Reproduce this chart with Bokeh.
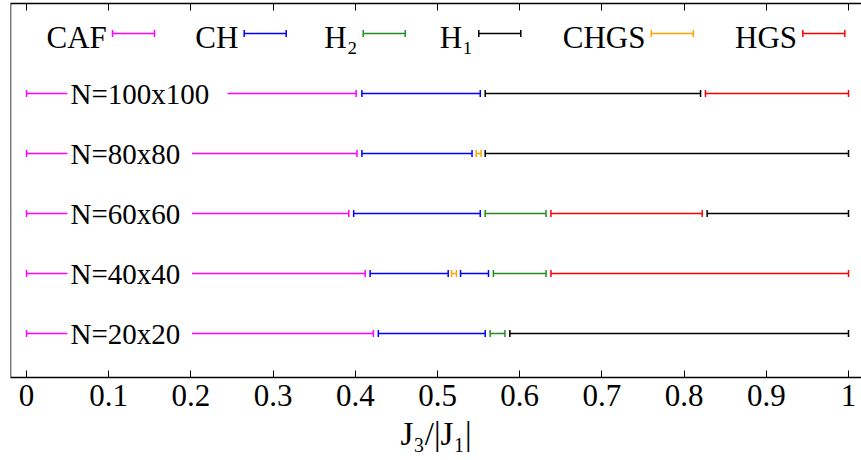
import math
from bokeh.plotting import figure
from bokeh.models import LinearAxis, FixedTicker, Span, ColumnDataSource, Range1d
from bokeh.core.properties import value
from bokeh.embed import file_html
from bokeh.resources import INLINE

# ---------------- data ----------------
SYSTEMS = ["N=20x20", "N=40x40", "N=60x60", "N=80x80", "N=100x100"]

PHASES = ["CAF", "CH", "H₂", "H₁", "CHGS", "HGS"]
COLORS = ["#ff00ff", "#0000ff", "#228b22", "#000000", "#ffa500", "#ff0000"]

# (system, J3 start, J3 end) for each phase
CAF = [("N=20x20", 0.0, 0.422), ("N=40x40", 0.0, 0.412), ("N=60x60", 0.0, 0.392),
       ("N=80x80", 0.0, 0.402), ("N=100x100", 0.0, 0.401)]
CH = [("N=20x20", 0.428, 0.558), ("N=40x40", 0.418, 0.513), ("N=40x40", 0.528, 0.562),
      ("N=60x60", 0.398, 0.552), ("N=80x80", 0.408, 0.542), ("N=100x100", 0.408, 0.552)]
H2 = [("N=20x20", 0.564, 0.582), ("N=40x40", 0.568, 0.632), ("N=60x60", 0.558, 0.632)]
H1 = [("N=20x20", 0.588, 1.0), ("N=60x60", 0.828, 1.0), ("N=80x80", 0.558, 1.0),
      ("N=100x100", 0.558, 0.820)]
CHGS = [("N=40x40", 0.517, 0.523), ("N=80x80", 0.547, 0.553)]
HGS = [("N=40x40", 0.638, 1.0), ("N=60x60", 0.638, 0.822), ("N=100x100", 0.826, 1.0)]
PHASE_DATA = [CAF, CH, H2, H1, CHGS, HGS]

TICKS = [0, 0.1, 0.2, 0.3, 0.4, 0.5, 0.6, 0.7, 0.8, 0.9, 1]
TICK_LABELS = ["0", "0.1", "0.2", "0.3", "0.4", "0.5", "0.6", "0.7", "0.8", "0.9", "1"]

# ---------------- layout / style ----------------
FONT = "Liberation Serif"
X_START, X_END = -0.0195, 1.0158
Y_START, Y_END = 0.267, 6.5
LEGEND_ROW = 6.0
LABEL_X = 0.0535
LABEL_BOX_PAD = 0.0038
CHAR_W = 0.02166
LEGEND_SAMPLE_START = [0.1046, 0.2648, 0.4096, 0.5502, 0.7600, 0.9444]
LEGEND_SAMPLE_LEN = 0.0511
LEGEND_TEXT_GAP = 0.007
LW = 1.5
CAP = 7

p = figure(width=861, height=460,
           x_range=Range1d(X_START, X_END), y_range=Range1d(Y_START, Y_END),
           output_backend="svg", toolbar_location=None,
           min_border_left=10, min_border_right=0, min_border_top=3, min_border_bottom=83)
p.grid.visible = False
p.outline_line_color = None
p.yaxis.visible = False
p.background_fill_color = "white"
p.border_fill_color = "white"

xa = p.xaxis[0]
xa.ticker = FixedTicker(ticks=TICKS)
xa.major_label_overrides = {t: l for t, l in zip(TICKS, TICK_LABELS)}
xa.major_tick_in = 7
xa.major_tick_out = 0
xa.minor_tick_line_color = None
xa.axis_line_width = LW
xa.major_tick_line_width = 1
xa.major_label_text_font = FONT
xa.major_label_text_font_size = "31px"
xa.major_label_text_color = "black"
xa.major_label_standoff = 7
xa.axis_label = "J₃/|J₁|"
xa.axis_label_text_font = FONT
xa.axis_label_text_font_size = "33px"
xa.axis_label_text_font_style = "normal"
xa.axis_label_text_color = "black"
xa.axis_label_standoff = 7

top = LinearAxis(ticker=FixedTicker(ticks=TICKS), major_tick_in=7, major_tick_out=0,
                 minor_tick_line_color=None, axis_line_width=LW,
                 major_label_text_font_size="0px", major_label_standoff=0)
top.major_label_overrides = {t: "" for t in TICKS}
p.add_layout(top, "above")

p.add_layout(Span(location=X_START, dimension="height", line_color="black", line_width=LW))

# ---------------- bars ----------------
for data, color in zip(PHASE_DATA, COLORS):
    src = ColumnDataSource(dict(
        x0=[d[1] for d in data],
        x1=[d[2] for d in data],
        y=[SYSTEMS.index(d[0]) + 1 for d in data],
    ))
    p.segment(x0="x0", y0="y", x1="x1", y1="y", source=src, line_color=color, line_width=LW)
    for col in ("x0", "x1"):
        p.scatter(x=col, y="y", source=src, marker="dash", angle=math.pi / 2, size=CAP,
                  line_color=color, line_width=LW)

# ---------------- system labels ----------------
lab = ColumnDataSource(dict(
    x=[LABEL_X] * len(SYSTEMS),
    y=[i + 1 for i in range(len(SYSTEMS))],
    left=[LABEL_X - LABEL_BOX_PAD] * len(SYSTEMS),
    right=[LABEL_X - LABEL_BOX_PAD + len(s) * CHAR_W for s in SYSTEMS],
    bottom=[i + 1 - 0.2 for i in range(len(SYSTEMS))],
    top=[i + 1 + 0.2 for i in range(len(SYSTEMS))],
    text=SYSTEMS,
))
p.quad(left="left", right="right", bottom="bottom", top="top", source=lab,
       fill_color="white", line_color=None)
p.text(x="x", y="y", text="text", source=lab, text_font=value(FONT),
       text_font_size="29px", text_align="left", text_baseline="middle", text_color="black")

# ---------------- legend ----------------
leg = ColumnDataSource(dict(
    x0=LEGEND_SAMPLE_START,
    x1=[s + LEGEND_SAMPLE_LEN for s in LEGEND_SAMPLE_START],
    tx=[s - LEGEND_TEXT_GAP for s in LEGEND_SAMPLE_START],
    y=[LEGEND_ROW] * len(PHASES),
    text=PHASES,
    color=COLORS,
))
p.segment(x0="x0", y0="y", x1="x1", y1="y", source=leg, line_color="color", line_width=LW)
for col in ("x0", "x1"):
    p.scatter(x=col, y="y", source=leg, marker="dash", angle=math.pi / 2, size=CAP,
              line_color="color", line_width=LW)
p.text(x="tx", y="y", text="text", source=leg, text_font=value(FONT),
       text_font_size="31px", text_align="right", text_baseline="middle", text_color="black",
       y_offset=4)

open("out.html", "w").write(file_html(p, INLINE))
